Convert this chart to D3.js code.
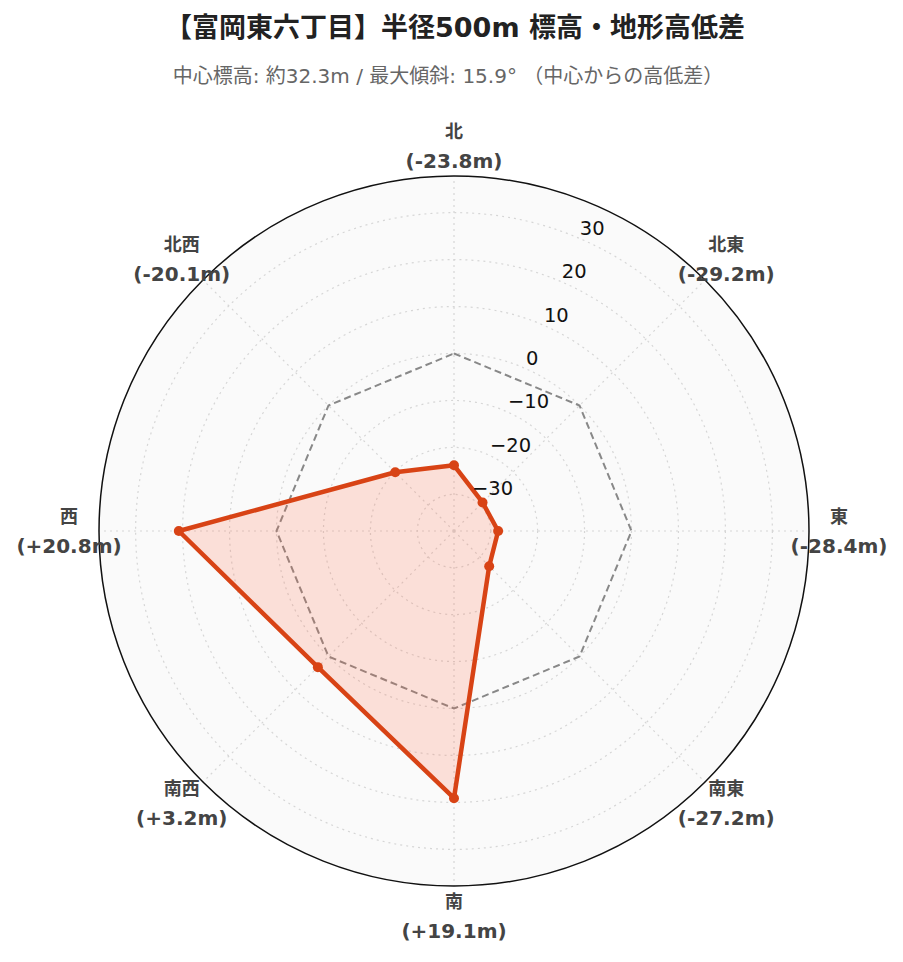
<!DOCTYPE html>
<html><head><meta charset="utf-8">
<script src="https://cdn.jsdelivr.net/npm/d3@7"></script>
<style>
html,body{margin:0;padding:0;background:#fff;}
svg{display:block;font-family:"DejaVu Sans","Noto Sans CJK JP",sans-serif;}
</style></head>
<body><svg id="chart" width="903" height="962"></svg>
<script>
const titleText = "【富岡東六丁目】半径500m 標高・地形高低差";
const subtitleText = "中心標高: 約32.3m / 最大傾斜: 15.9° （中心からの高低差）";
const directions = ["北","北東","東","南東","南","南西","西","北西"];
const diffs = [-23.8,-29.2,-28.4,-27.2,19.1,3.2,20.8,-20.1];
const baseline = [0,0,0,0,0,0,0,0];
const radialTicks = [-30,-20,-10,0,10,20,30];
const radialRange = [-37.8,37.8];

const svg = d3.select("#chart");
const cx = 454, cy = 531, R = 355;

const r = d3.scaleLinear().domain(radialRange).range([0,R]);
const ang = d3.scaleLinear().domain([0,8]).range([0,2*Math.PI]);
const pt = (i,v)=>[cx + r(v)*Math.sin(ang(i)), cy - r(v)*Math.cos(ang(i))];

// title
svg.append("text").attr("x",455).attr("y",37).attr("text-anchor","middle")
  .attr("font-size",27).attr("font-weight","bold").attr("fill","#222").text(titleText);
svg.append("text").attr("x",448).attr("y",83).attr("text-anchor","middle")
  .attr("font-size",20).attr("fill","#666").text(subtitleText);

// background
svg.append("circle").attr("cx",cx).attr("cy",cy).attr("r",R).attr("fill","#fafafa");

// grid circles
svg.append("g").selectAll("circle").data(radialTicks).join("circle")
  .attr("cx",cx).attr("cy",cy).attr("r",d=>r(d))
  .attr("fill","none").attr("stroke","#d6d6d6").attr("stroke-width",1.2).attr("stroke-dasharray","2,4");
// spokes
svg.append("g").selectAll("line").data(directions).join("line")
  .attr("x1",cx).attr("y1",cy)
  .attr("x2",(d,i)=>pt(i,radialRange[1])[0]).attr("y2",(d,i)=>pt(i,radialRange[1])[1])
  .attr("stroke","#d6d6d6").attr("stroke-width",1.2).attr("stroke-dasharray","2,4");

// baseline dashed octagon
const lineGen = d3.lineRadial().angle((d,i)=>ang(i)).radius(d=>r(d)).curve(d3.curveLinearClosed);
svg.append("path").attr("transform",`translate(${cx},${cy})`)
  .attr("d",lineGen(baseline)).attr("fill","none").attr("stroke","#888").attr("stroke-width",2).attr("stroke-dasharray","7,4");

// data
svg.append("path").attr("transform",`translate(${cx},${cy})`)
  .attr("d",lineGen(diffs)).attr("fill","rgba(255,100,60,0.18)").attr("stroke","#d84315").attr("stroke-width",4.5).attr("stroke-linejoin","round");
svg.append("g").selectAll("circle").data(diffs).join("circle")
  .attr("cx",(d,i)=>pt(i,d)[0]).attr("cy",(d,i)=>pt(i,d)[1]).attr("r",5).attr("fill","#d84315");

// outer circle
svg.append("circle").attr("cx",cx).attr("cy",cy).attr("r",R).attr("fill","none").attr("stroke","#111").attr("stroke-width",1.5);

// radial tick labels at 22.5 degrees
const tickAng = Math.PI/8;
svg.append("g").selectAll("text").data(radialTicks).join("text")
  .attr("x",d=>cx + r(d)*Math.sin(tickAng)+4)
  .attr("y",d=>cy - r(d)*Math.cos(tickAng)-2)
  .attr("font-size",19.5).attr("fill","#111")
  .text(d=>d<0?"\u2212"+Math.abs(d):String(d));

// direction labels
const fmt = v=>"(" + (v>0?"+":"") + v.toFixed(1) + "m)";
const lg = svg.append("g").selectAll("g").data(directions).join("g")
  .attr("transform",(d,i)=>{const a=ang(i);return `translate(${cx+385*Math.sin(a)},${cy-385*Math.cos(a)})`;});
lg.append("text").attr("y",-8).attr("text-anchor","middle").attr("font-size",18).attr("font-weight","bold").attr("fill","#444").text(d=>d);
lg.append("text").attr("y",22).attr("text-anchor","middle").attr("font-size",20).attr("font-weight","bold").attr("fill","#444").text((d,i)=>fmt(diffs[i]));
</script></body></html>
